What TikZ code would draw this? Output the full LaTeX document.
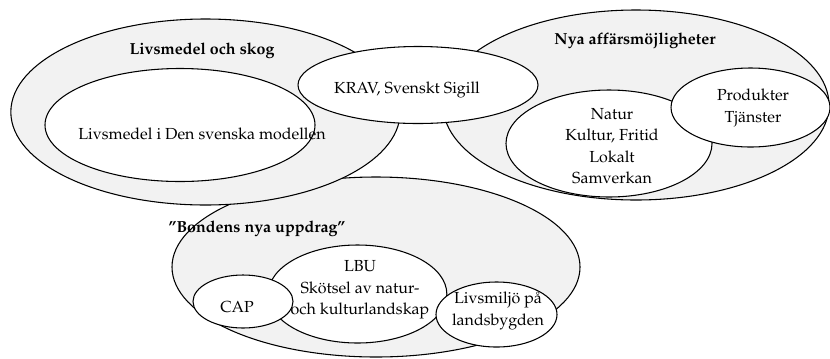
\documentclass[tikz,border=0pt]{standalone}
\usepackage[T1]{fontenc}
\usepackage{mathpazo}
\usepackage{tikz}
\usetikzlibrary{shapes.geometric}

\tikzset{
  region/.style={ellipse, draw, line width=0.8pt, fill=black!5, inner sep=0pt},
  part/.style={ellipse, draw, line width=0.8pt, fill=white, inner sep=0pt},
  heading/.style={font=\bfseries\fontsize{12}{16}\selectfont, inner sep=0.75pt},
  txt/.style={align=center, inner sep=0.75pt, font=\fontsize{12}{16}\selectfont}
}

\begin{document}
\begin{tikzpicture}[x=0.75pt,y=0.75pt,yscale=-1,xscale=1]
\useasboundingbox (0,0) rectangle (830,358);

%Shape: Ellipse [bondens uppdrag]
\node [region, minimum width=306pt, minimum height=135pt] (uppdrag) at (376,267) {};
%Shape: Ellipse [livsmedel och skog]
\node [region, minimum width=292pt, minimum height=139.5pt] (skog) at (205.5,112) {};
\node [part, minimum width=202.5pt, minimum height=84.75pt] (modellen) at (180,125) {};
%Shape: Ellipse [affärsmöjligheter]
\node [region, minimum width=289.5pt, minimum height=142.5pt] (affar) at (636,105) {};
\node [part, minimum width=154.5pt, minimum height=80.25pt] (natur) at (609,143.5) {};
\node [part, minimum width=119.25pt, minimum height=59.25pt] (produkter) at (750.5,107.5) {};
%Shape: Ellipse [krav]
\node [part, minimum width=180pt, minimum height=57.75pt] (krav) at (418,85) {};
%Shape: Ellipse [lbu, livsmiljö, cap]
\node [part, minimum width=134pt, minimum height=73.5pt] (lbu) at (357.5,294) {};
\node [part, minimum width=90.75pt, minimum height=48.75pt] (livsmiljo) at (496.5,314.5) {};
\node [part, minimum width=75pt, minimum height=39.75pt] (cap) at (243,301.5) {};

% Text Node
\node [heading] (skogtitel) at (202,51) {Livsmedel och skog};
% Text Node
\node [heading] (affartitel) at (635,41) {Nya affärsmöjligheter};
% Text Node
\node [heading] (uppdragtitel) at (257,229) {''Bondens nya uppdrag''};
% Text Node
\node [txt] (modellentext) at (202,133.5) {Livsmedel i Den svenska modellen};
% Text Node
\node [txt] (kravtext) at (407,89.5) {KRAV, Svenskt Sigill};
% Text Node
\node [txt] (naturtext) at (612,146) {Natur\\Kultur, Fritid\\Lokalt\\Samverkan};
% Text Node
\node [txt] (produktertext) at (753,108) {Produkter\\Tjänster};
% Text Node
\node [txt] (lbutext) at (360,290) {LBU\\Skötsel av natur-\\och kulturlandskap};
% Text Node
\node [txt] (captext) at (237,307.5) {CAP};
% Text Node
\node [txt] (livsmiljotext) at (498,311) {Livsmiljö på\\landsbygden};

\end{tikzpicture}
\end{document}
